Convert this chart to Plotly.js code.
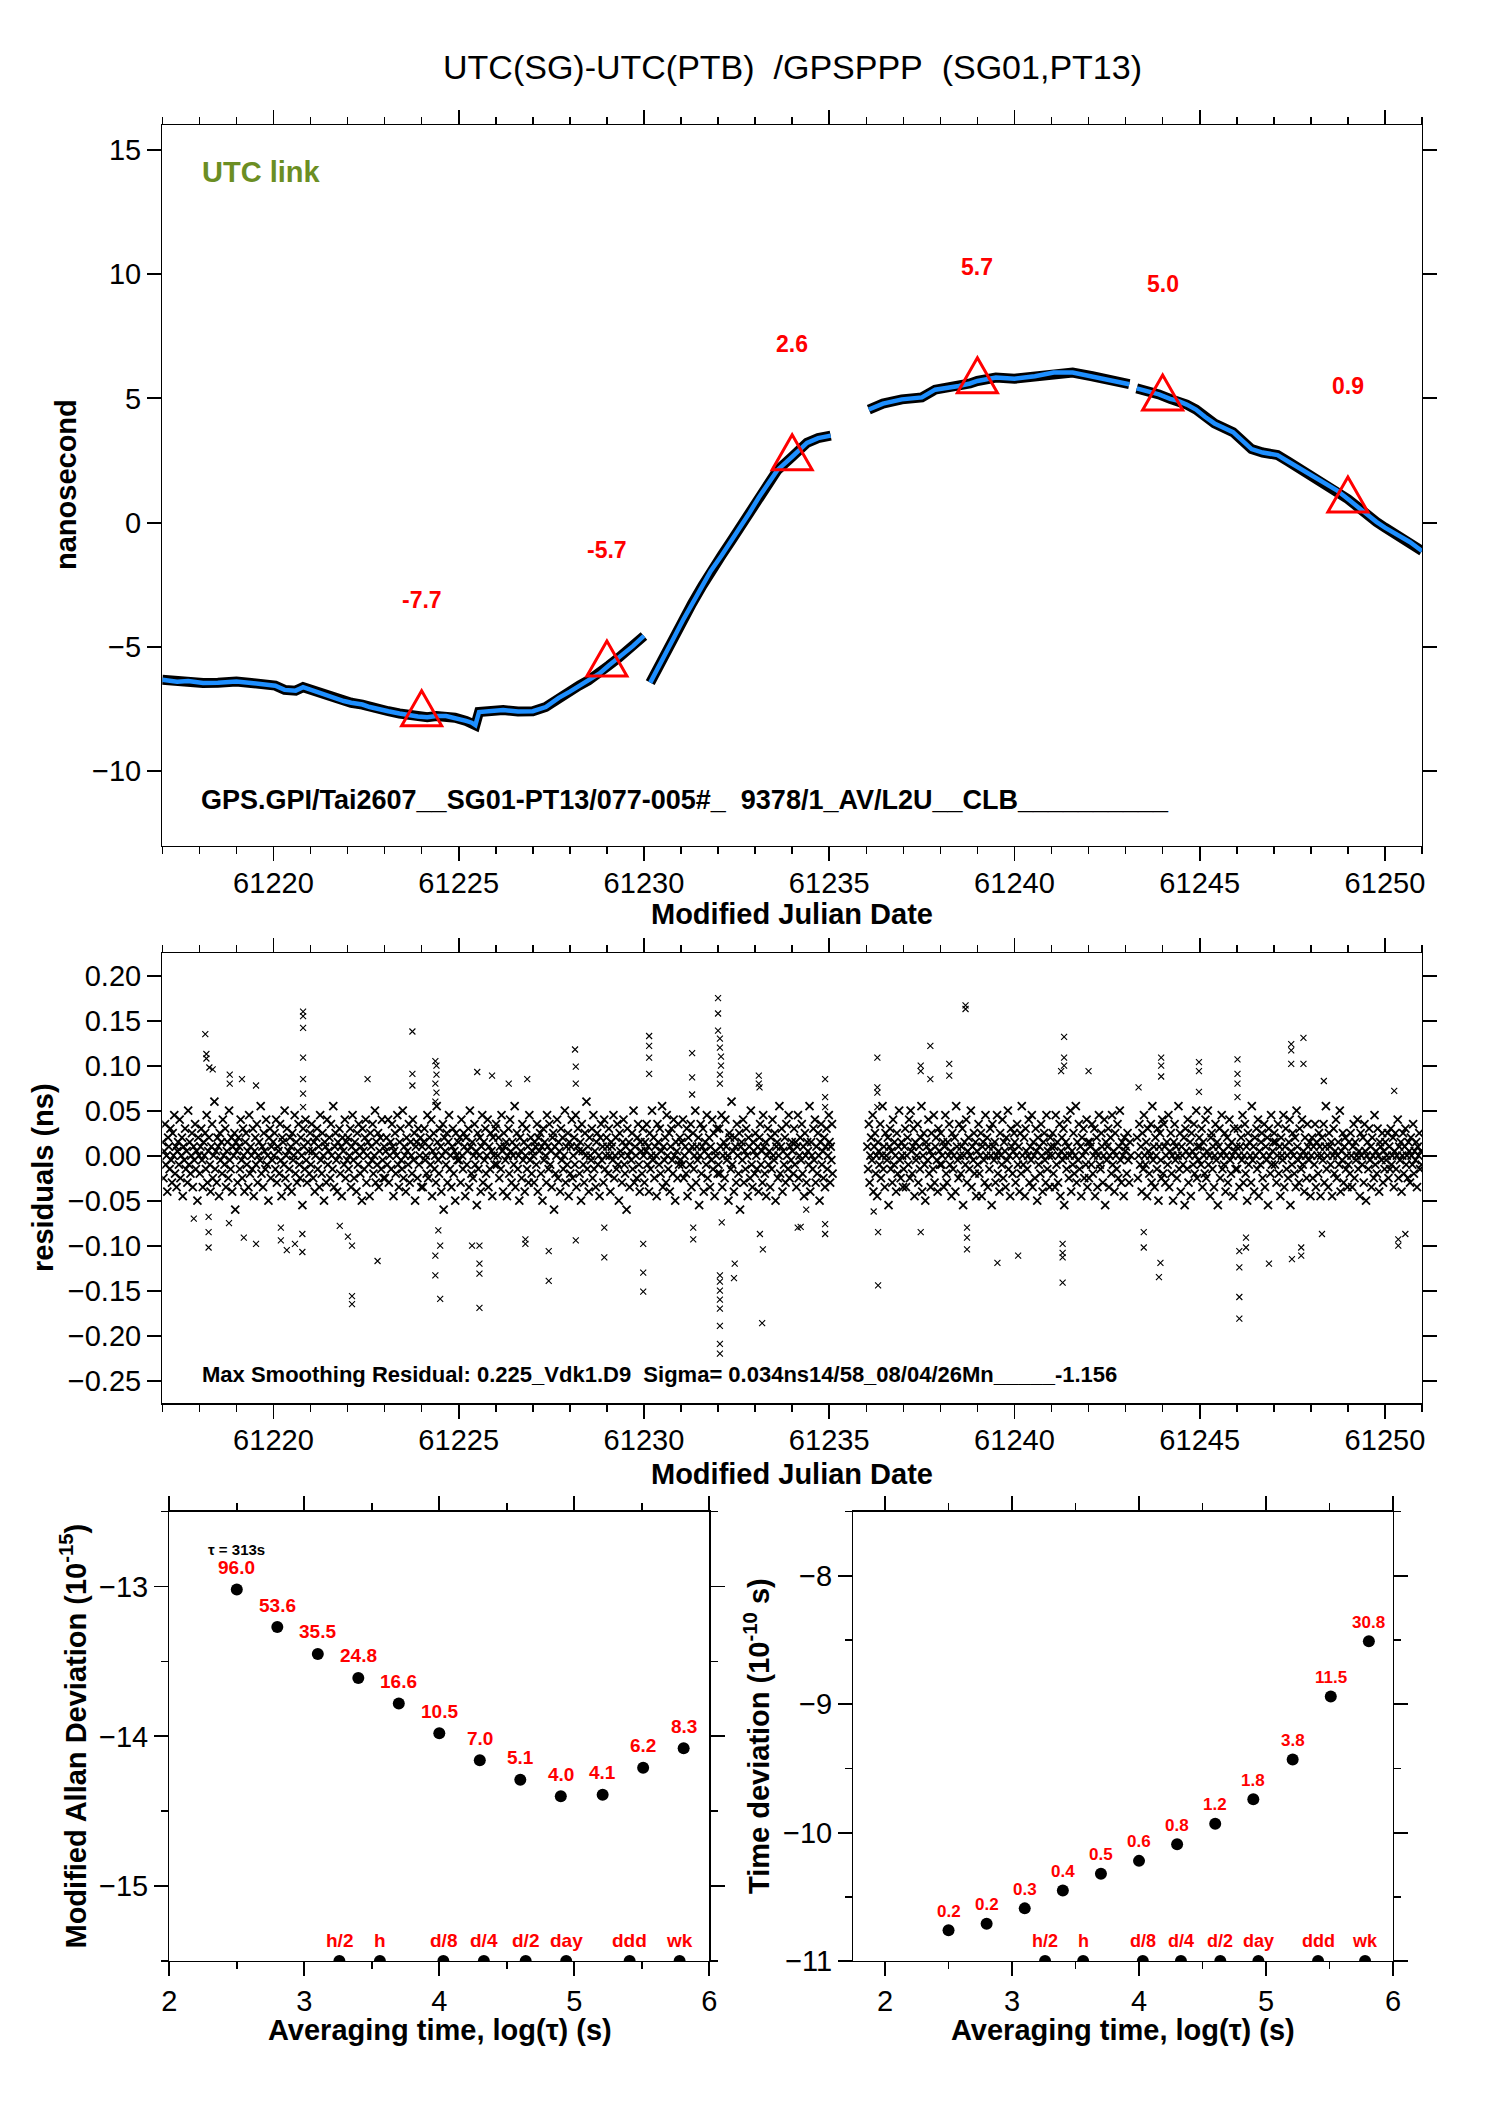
<!DOCTYPE html>
<html><head><meta charset="utf-8">
<script src="https://cdn.plot.ly/plotly-3.0.1.min.js"></script>
<style>html,body{margin:0;padding:0;background:#fff}#chart{width:1488px;height:2105px}</style>
</head><body><div id="chart"></div>
<script>
// ---------- Top panel: UTC(SG)-UTC(PTB) (ns) vs MJD, four data segments ----------
const seg1Mjd = [61217.0,61217.4,61217.7,61218.1,61218.5,61218.8,61219.0,61219.4,61219.8,61220.05,61220.3,61220.6,61220.8,61221.0,61221.3,61221.6,61221.9,61222.1,61222.4,61222.6,61222.9,61223.1,61223.4,61223.6,61223.9,61224.15,61224.4,61224.66,61224.9,61225.2,61225.35,61225.45,61225.55,61225.9,61226.2,61226.6,61227.0,61227.35,61227.7,61228.0,61228.25,61228.5,61228.8,61229.05,61229.3,61229.5,61229.7,61230.0];
const seg1Ns  = [-6.32,-6.40,-6.37,-6.45,-6.44,-6.40,-6.39,-6.45,-6.52,-6.56,-6.73,-6.76,-6.62,-6.72,-6.90,-7.05,-7.18,-7.25,-7.32,-7.42,-7.50,-7.59,-7.68,-7.74,-7.80,-7.83,-7.78,-7.78,-7.85,-7.98,-8.05,-8.15,-7.62,-7.58,-7.54,-7.60,-7.59,-7.42,-7.05,-6.80,-6.56,-6.35,-6.07,-5.75,-5.46,-5.20,-4.97,-4.56];
const seg2Mjd = [61230.17,61230.35,61230.56,61230.8,61231.07,61231.3,61231.58,61231.8,61232.1,61232.35,61232.6,61232.85,61233.1,61233.35,61233.6,61234.0,61234.4,61234.7,61235.04];
const seg2Ns  = [-6.44,-5.90,-5.34,-4.65,-3.88,-3.25,-2.53,-1.95,-1.31,-0.75,-0.21,0.40,1.01,1.55,2.11,2.65,3.21,3.40,3.50];
const seg3Mjd = [61236.07,61236.45,61236.96,61237.5,61237.86,61238.2,61238.5,61238.8,61239.0,61239.5,61240.0,61240.55,61241.06,61241.57,61242.1,61242.6,61243.1];
const seg3Ns  = [4.55,4.79,4.96,5.04,5.35,5.42,5.50,5.60,5.70,5.84,5.79,5.89,6.04,6.04,5.89,5.72,5.57];
const seg4Mjd = [61243.3,61243.6,61243.9,61244.2,61244.4,61244.65,61244.9,61245.15,61245.4,61245.9,61246.15,61246.4,61246.7,61247.1,61247.4,61247.7,61248.2,61248.7,61249.0,61249.26,61249.5,61249.77,61250.0,61250.3,61250.67,61251.0];
const seg4Ns  = [5.40,5.30,5.16,4.98,4.91,4.75,4.55,4.25,3.99,3.64,3.30,2.96,2.82,2.72,2.45,2.18,1.74,1.30,0.95,0.64,0.30,0.03,-0.20,-0.46,-0.78,-1.14];
const markMjd = [61224,61229,61234,61239,61244,61249];
const markNs  = [-7.7,-5.7,2.6,5.7,5.0,0.9];

// ---------- Middle panel: residuals (ns) ----------
const resSpanStart = [61217,61218,61219,61220,61221,61222,61223,61224,61225,61226,61227,61228,61229,61230,61231,61232,61233,61234,61235.0,61236.02,61237,61238,61239,61240,61241,61242,61243.0,61243.3,61244,61245,61246,61247,61248,61249,61250];
const resSpanEnd   = [61218,61219,61220,61221,61222,61223,61224,61225,61226,61227,61228,61229,61230,61231,61232,61233,61234,61235,61235.1,61237,61238,61239,61240,61241,61242,61243,61243.15,61244,61245,61246,61247,61248,61249,61250,61251];
// residual values in units of 0.005 ns, one list per data span (evenly sampled epochs)
const resSpanVals = [
[3,-5,1,7,-2,0,-8,4,2,-3,6,-1,-6,5,0,9,-4,2,-7,1,3,-2,8,-5,0,4,-9,2,-1,6,-3,1,-6,10,-2,3,-4,0,5,-7,2,-1,7,-3,1,-10,4,0],
[-4,2,6,-1,-7,3,0,5,-3,9,-6,1,4,-2,-8,2,7,-5,0,12,-3,1,-6,4,2,-9,5,-1,3,-4,8,0,-2,6,-7,1,3,-5,10,-1,-3,4,-8,2,0,5,-12,3],
[1,-6,4,2,-3,8,-1,-5,6,0,-8,3,5,-2,1,-7,9,-4,2,0,-3,6,-9,1,4,-2,7,-6,0,3,-1,11,-4,2,-7,5,1,-3,8,-2,0,-10,4,6,-5,2,-1,3],
[0,5,-3,8,-6,2,1,-4,7,-1,-9,4,3,-2,10,-5,0,6,-7,1,-3,4,2,-8,5,-1,0,9,-4,3,-6,1,7,-2,-5,4,0,-11,6,2,-3,8,-1,-6,3,1,-4,5],
[-2,7,1,-5,3,-8,0,4,6,-3,2,-7,9,-1,-4,5,0,-10,3,2,-6,8,-2,1,4,-5,7,0,-3,11,-7,2,5,-1,-8,3,0,6,-4,2,-9,4,1,-2,8,-5,3,-1],
[4,-3,0,6,-7,2,9,-1,-5,3,1,-8,5,-2,7,0,-4,2,-10,6,1,-3,4,8,-6,0,3,-2,-9,5,2,-1,7,-4,0,10,-6,3,-2,5,-7,1,4,-3,8,-1,-5,2],
[-5,1,4,-2,8,-6,0,3,-3,7,2,-9,1,5,-4,0,9,-2,-7,3,6,-1,-3,10,-5,2,0,-8,4,1,-2,7,-6,3,0,-4,8,-1,5,-10,2,3,-5,6,-2,0,4,-7],
[2,-7,3,6,-1,0,-4,9,-5,2,4,-2,8,-9,1,5,-3,0,-6,11,3,-1,-4,6,2,-8,0,7,-12,4,1,-2,5,-6,3,9,-3,0,-7,2,6,-4,1,-10,5,0,-1,3],
[-1,4,-6,8,0,-3,5,2,-9,4,-2,1,6,-7,10,2,-4,3,-5,0,7,-2,1,-11,5,-3,0,4,-8,2,9,-6,3,-1,6,-4,0,8,-7,2,-3,5,1,-9,4,0,-2,6],
[7,-2,0,4,-5,2,-3,9,1,-8,5,2,-1,3,-9,0,6,-4,8,1,-6,3,0,-2,11,-7,2,5,-3,0,-10,4,1,-5,7,-1,3,-8,0,6,-3,2,-6,9,-1,4,-4,1],
[0,-6,3,2,-2,7,-8,4,1,5,-4,2,-10,6,-1,3,0,-6,9,2,-3,7,-2,1,-7,4,5,-12,2,-4,0,8,-5,3,1,-8,6,-1,4,-3,0,10,-6,2,-2,5,-9,3],
[-4,2,8,-5,0,4,-2,9,-7,2,6,1,-4,3,-10,7,1,-2,-6,5,0,12,-3,2,-8,4,0,-1,6,-5,9,-3,1,-7,3,5,-2,0,-9,4,7,-1,2,-6,8,-3,0,4],
[2,-4,6,0,-8,3,2,-1,9,-5,0,4,-3,7,-2,-10,5,1,0,-6,3,8,-2,-4,2,-12,6,0,3,-7,1,-1,5,-3,10,-6,2,0,-5,4,7,-2,-8,3,1,-4,6,0],
[-6,3,1,7,-2,2,-8,5,-3,0,10,-1,4,-5,2,0,-9,7,3,-2,6,-4,1,11,-7,2,-1,4,-6,9,0,-3,5,-8,2,6,-1,-4,8,0,-10,3,1,-5,7,-2,4,-1],
[3,-2,8,-5,0,2,-4,6,-9,4,1,-2,7,-7,2,5,-3,0,10,-6,2,-1,4,-11,0,7,-4,2,6,-8,1,3,-2,9,-5,0,4,-7,2,-1,8,-3,5,-9,1,0,6,-4],
[-2,6,-4,2,9,-7,0,3,-5,8,2,-1,0,-10,5,4,-3,12,-2,1,-8,4,2,-6,7,0,-4,5,-12,2,3,-1,8,-6,1,-3,6,0,-9,4,2,-5,10,-2,-7,3,1,-4],
[5,0,-3,2,-8,4,7,-2,1,-6,9,2,-4,3,-9,0,6,-2,1,-7,4,-3,8,0,-1,5,-10,2,3,-5,0,11,-4,2,6,-8,1,-2,4,-6,7,0,-3,9,-5,2,-1,3],
[1,-4,6,-2,3,-7,2,9,-5,0,4,-1,7,-4,2,-9,5,0,-6,3,1,-2,11,-8,3,0,-3,6,-1,8,-6,2,-4,5,0,-10,3,7,-2,1,-5,4,-7,2,6,-3,0,9],
[3,-6,2,-1,7,-4],
[2,-3,7,-6,0,4,-1,9,-8,2,5,-4,0,-9,3,1,-2,7,-5,0,11,-3,2,-7,5,0,-1,4,-11,2,6,-3,1,-6,8,-2,3,0,-8,5,-4,2,10,-1,-5,3,0,-7],
[-3,2,6,-7,0,4,-2,8,-5,10,1,-4,2,6,-9,3,-1,0,7,-6,2,-3,4,11,-8,0,5,-2,-10,3,2,-1,8,-4,1,-7,5,0,-3,9,-6,2,4,-1,-8,6,1,-2],
[5,-2,0,3,-7,2,9,-4,-6,3,0,7,-2,1,-9,5,-3,0,4,-8,11,2,-1,-5,7,0,-4,2,6,-11,0,3,-2,8,-6,1,4,-3,0,10,-7,2,-1,5,-4,3,-9,1],
[-2,7,-4,0,5,-9,2,3,-1,-6,9,0,4,-7,2,-3,6,0,-11,7,2,-1,3,-6,0,9,-4,1,-8,5,0,-2,8,-5,3,1,-7,4,-1,10,-3,0,-9,6,2,-4,1,5],
[3,-6,0,7,-2,2,-8,5,-4,11,0,-2,4,-9,6,1,-3,0,8,-6,2,-1,9,-7,3,0,-5,6,1,-10,4,-2,2,-4,7,0,-8,3,5,-1,-6,9,-3,1,0,-7,4,2],
[0,5,-4,2,-7,9,-2,3,-6,0,7,-9,1,4,-1,6,-11,0,3,-3,8,2,-5,0,10,-8,1,-2,5,-4,0,11,-6,3,-1,7,-3,2,-9,4,0,6,-5,1,-2,8,-7,3],
[-5,3,2,-2,7,-4,0,6,-9,1,4,-7,0,9,-2,-3,5,2,-6,0,8,-11,3,-1,2,6,-7,0,4,-4,9,-2,1,-8,5,0,-3,7,-5,2,10,-1,-6,3,0,-9,4,1],
[2,-4,5,-1,-6,3,0],
[4,-5,0,7,-2,2,-8,5,-3,9,0,-2,3,-9,6,1,-4,0,7,-6,11,-1,2,-7,4,0,-3,6,-10,2,5,-1,-5,8],
[-4,7,2,-6,0,3,-2,9,-7,1,5,-4,0,-10,3,7,-1,2,-5,0,11,-3,5,-8,2,0,-2,4,-11,6,1,-3,8,-6,0,3,-9,5,1,-2,7,-4,0,10,-5,2,-1,4],
[2,-2,6,-7,3,0,-4,8,-5,1,10,-2,0,-9,4,5,-3,2,-7,0,7,-1,3,-11,2,6,-5,0,9,-3,1,-2,5,-8,0,4,-6,2,8,-1,-4,3,0,-9,6,1,-3,2],
[-3,6,0,-7,2,4,-1,9,-6,0,7,-4,2,-10,5,-2,3,0,-6,11,-1,2,-8,4,0,6,-3,8,-9,1,-2,3,5,-5,0,7,-7,2,-1,4,-11,6,0,-4,9,-2,1,3],
[5,-2,3,-6,0,7,-4,2,-9,4,0,-1,9,-7,2,6,-3,0,-5,3,8,-11,1,-2,5,0,-4,4,-7,10,2,-1,-6,6,0,-3,8,-2,1,-8,4,0,-5,7,2,-1,3,-9],
[0,4,-5,2,-2,7,-7,3,0,-4,5,2,-9,0,4,-1,7,-6,2,11,-3,0,-7,5,2,-2,3,-9,0,6,-4,1,8,-5,0,3,-2,10,-8,1,-1,5,-6,2,4,-3,0,-7],
[-2,3,-4,5,0,-7,2,7,-5,3,-1,0,8,-3,1,-9,5,0,-2,4,-6,7,1,-10,0,3,-3,6,-1,2,-7,4,0,-5,9,-2,1,-4,6,0,-8,3,2,-1,5,-6,1,-3],
[3,-1,0,5,-5,2,-3,6,-2,0,4,-7,1,5,-3,0,8,-5,2,-1,3,-8,0,5,-4,2,6,-2,0,-5,3,1,-6,4,0,-2,7,-4,1,-1,3,-7,2,0,5,-3,1,-2]
];
const resOutMjd = [61218.16,61218.19,61218.19,61218.27,61218.36,61218.25,61218.25,61218.25,61217.85,61218.82,61218.82,61219.15,61219.53,61219.2,61219.53,61218.8,
61220.8,61220.8,61220.8,61220.8,61220.8,61220.8,61220.8,61220.78,61220.58,61220.36,61220.2,61220.78,61220.2,
61223.75,61223.75,61223.75,61222.54,61222.12,61222.12,61222.12,61222.01,61221.79,61222.81,
61224.37,61224.4,61224.4,61224.37,61224.4,61224.37,61224.37,61224.5,61224.37,61224.5,61224.45,
61225.5,61225.9,61225.56,61225.56,61225.56,61225.36,61225.56,61226.35,61226.85,61226.8,61226.8,61227.43,61227.43,
61228.14,61228.16,61228.16,61228.16,61228.93,61228.93,61230.14,61230.14,61230.14,61230.14,61229.98,61229.98,61229.98,
61231.3,61231.3,61231.3,61231.33,61231.33,61232.0,61232.0,61232.0,61232.05,61232.05,61232.08,61232.08,61232.05,61232.05,
61232.05,61232.05,61232.05,61232.05,61232.05,61232.05,61232.05,61232.05,61232.45,61232.43,61232.1,
61233.1,61233.1,61233.12,61233.19,61233.21,61233.13,61234.15,61234.89,61234.89,61234.89,61234.89,61234.89,61234.23,61234.38,
61236.3,61236.3,61236.3,61236.3,61236.32,61236.32,61236.2,61237.47,61237.47,61237.47,61237.73,61237.73,61238.24,61238.24,
61238.68,61238.68,61238.72,61238.72,61238.72,61239.54,61240.1,61241.34,61241.34,61241.34,61241.26,61241.3,61241.3,61241.3,61241.3,
61242.0,61243.35,61243.49,61243.49,61243.96,61243.96,61243.96,61243.94,61243.9,61244.98,61244.98,61244.98,
61246.02,61246.02,61246.02,61246.02,61246.07,61246.07,61246.07,61246.07,61246.25,61246.25,61246.87,
61247.47,61247.47,61247.47,61247.8,61247.8,61247.49,61247.74,61247.74,61248.35,61248.3,61250.25,61250.36,61250.36,61250.55];
const resOutNs = [0.135,0.113,0.108,0.098,0.096,-0.102,-0.085,-0.068,-0.07,0.09,0.08,0.085,0.078,-0.091,-0.098,-0.075,
0.16,0.155,0.142,0.109,0.085,0.069,0.054,-0.087,-0.098,-0.105,-0.094,-0.107,-0.08,
0.138,0.091,0.078,0.085,-0.156,-0.165,-0.1,-0.09,-0.078,-0.117,
0.105,0.1,0.09,0.08,0.07,0.06,-0.133,-0.159,-0.111,-0.1,-0.083,
0.093,0.089,-0.169,-0.12,-0.131,-0.1,-0.1,0.08,0.085,-0.093,-0.098,-0.139,-0.106,
0.118,0.099,0.08,-0.094,-0.113,-0.08,0.133,0.122,0.109,0.091,-0.098,-0.13,-0.151,
0.114,0.087,0.068,-0.08,-0.093,0.175,0.158,0.139,0.13,0.12,0.11,0.1,0.09,0.08,
-0.133,-0.14,-0.15,-0.16,-0.17,-0.189,-0.209,-0.22,-0.12,-0.136,-0.074,
0.089,0.08,0.076,-0.186,-0.104,-0.087,-0.08,0.085,0.065,0.054,-0.076,-0.087,-0.079,-0.06,
0.109,0.076,0.07,0.054,-0.085,-0.144,-0.062,0.1,0.094,-0.085,0.122,0.085,0.102,0.089,
0.167,0.163,-0.08,-0.091,-0.104,-0.119,-0.111,0.132,0.109,0.1,0.094,-0.098,-0.108,-0.113,-0.141,
0.094,0.076,-0.085,-0.102,0.109,0.1,0.088,-0.119,-0.135,0.104,0.094,0.071,
0.107,0.091,0.08,0.065,-0.106,-0.124,-0.157,-0.181,-0.091,-0.102,-0.12,
0.124,0.117,0.102,0.131,0.102,-0.115,-0.102,-0.111,0.083,-0.087,0.072,-0.093,-0.1,-0.087];

// ---------- Bottom panels: stability ----------
const logTau      = [2.50,2.80,3.10,3.40,3.70,4.00,4.30,4.60,4.90,5.21,5.51,5.81];
const modAdevLog  = [-13.02,-13.27,-13.45,-13.61,-13.78,-13.98,-14.16,-14.29,-14.40,-14.39,-14.21,-14.08];
const modAdevText = ["96.0","53.6","35.5","24.8","16.6","10.5","7.0","5.1","4.0","4.1","6.2","8.3"];
const tdevLog     = [-10.76,-10.71,-10.59,-10.45,-10.32,-10.22,-10.09,-9.93,-9.74,-9.43,-8.94,-8.51];
const tdevText    = ["0.2","0.2","0.3","0.4","0.5","0.6","0.8","1.2","1.8","3.8","11.5","30.8"];
const refLogTau   = [3.26,3.56,4.03,4.33,4.64,4.94,5.41,5.78];
const refTauText  = ["h/2","h","d/8","d/4","d/2","day","ddd","wk"];

// ---------- build ----------
const W = 1488, H = 2105;
const px = v => v / W, py = v => 1 - v / H;
const FONT = "Liberation Sans, Arial, Helvetica, sans-serif";
const NB = "\u00a0";

function joinSegs(xs, ys) {
  const X = [], Y = [];
  xs.forEach((s, i) => { if (i) { X.push(null); Y.push(null); } X.push(...s); Y.push(...ys[i]); });
  return [X, Y];
}
const [utcX, utcY] = joinSegs([seg1Mjd, seg2Mjd, seg3Mjd, seg4Mjd], [seg1Ns, seg2Ns, seg3Ns, seg4Ns]);

const coreX = [], coreY = [];
resSpanVals.forEach((vals, k) => {
  const a = resSpanStart[k], b = resSpanEnd[k], n = vals.length;
  vals.forEach((v, i) => { coreX.push(a + (i + 0.5) * (b - a) / n); coreY.push(v * 0.005); });
});

const coreMark = {symbol: 'x-thin', size: 8, color: 'black', line: {color: 'black', width: 1.8}};
const outMark  = {symbol: 'x-thin', size: 6, color: 'black', line: {color: 'black', width: 1.1}};

const traces = [
  {x: utcX, y: utcY, xaxis: 'x', yaxis: 'y', mode: 'lines', line: {color: 'black', width: 10}, connectgaps: false},
  {x: utcX, y: utcY, xaxis: 'x', yaxis: 'y', mode: 'lines', line: {color: '#1e8fff', width: 4.5}, connectgaps: false},
  {x: coreX, y: coreY, xaxis: 'x2', yaxis: 'y2', mode: 'markers', marker: coreMark},
  {x: resOutMjd, y: resOutNs, xaxis: 'x2', yaxis: 'y2', mode: 'markers', marker: outMark},
  {x: logTau, y: modAdevLog, xaxis: 'x3', yaxis: 'y3', mode: 'markers', marker: {color: 'black', size: 12}},
  {x: refLogTau, y: refLogTau.map(() => -15.5), xaxis: 'x3', yaxis: 'y3', mode: 'markers', marker: {color: 'black', size: 12}},
  {x: logTau, y: tdevLog, xaxis: 'x4', yaxis: 'y4', mode: 'markers', marker: {color: 'black', size: 12}},
  {x: refLogTau, y: refLogTau.map(() => -11), xaxis: 'x4', yaxis: 'y4', mode: 'markers', marker: {color: 'black', size: 12}}
];

const axBase = {
  showline: true, linecolor: 'black', linewidth: 1.3, mirror: 'ticks',
  ticks: 'outside', ticklen: 14, tickwidth: 1.8, tickcolor: 'black',
  showgrid: false, zeroline: false, fixedrange: true,
  tickfont: {family: FONT, size: 29, color: 'black'}
};
const minorBase = {ticks: 'outside', ticklen: 7, tickwidth: 1.5, tickcolor: 'black', showgrid: false};
const ax = o => Object.assign({}, axBase, o);

const layout = {
  width: W, height: H, margin: {l: 0, r: 0, t: 0, b: 0},
  paper_bgcolor: 'white', plot_bgcolor: 'white', showlegend: false,
  font: {family: FONT, color: 'black'},
  xaxis:  ax({domain: [px(162.3), px(1422)], range: [61217, 61251], anchor: 'y', tick0: 61220, dtick: 5, tickformat: 'd', ticklabelstandoff: -3, minor: Object.assign({dtick: 1}, minorBase)}),
  yaxis:  ax({domain: [py(845.7), py(125)], range: [-13, 16], anchor: 'x', tick0: 0, dtick: 5}),
  xaxis2: ax({domain: [px(162.3), px(1422)], range: [61217, 61251], anchor: 'y2', tick0: 61220, dtick: 5, tickformat: 'd', ticklabelstandoff: -3, minor: Object.assign({dtick: 1}, minorBase)}),
  yaxis2: ax({domain: [py(1403.2), py(953.2)], range: [-0.275, 0.225], anchor: 'x2', tick0: 0, dtick: 0.05, tickformat: '.2f'}),
  xaxis3: ax({domain: [px(169.3), px(709.3)], range: [2, 6], anchor: 'y3', tick0: 2, dtick: 1, minor: Object.assign({dtick: 0.5}, minorBase)}),
  yaxis3: ax({domain: [py(1961), py(1511.7)], range: [-15.5, -12.5], anchor: 'x3', tick0: -13, dtick: 1, minor: Object.assign({dtick: 0.5}, minorBase)}),
  xaxis4: ax({domain: [px(853.3), px(1393)], range: [1.75, 6], anchor: 'y4', tick0: 2, dtick: 1, minor: Object.assign({dtick: 0.5}, minorBase)}),
  yaxis4: ax({domain: [py(1961), py(1511.7)], range: [-11, -7.5], anchor: 'x4', tick0: -8, dtick: 1, minor: Object.assign({dtick: 0.5}, minorBase)}),
  shapes: [], annotations: []
};

const A = layout.annotations;
function paperText(text, x, y, size, opts) {
  A.push(Object.assign({text: text, xref: 'paper', yref: 'paper', x: px(x), y: py(y), showarrow: false,
    xanchor: 'center', yanchor: 'middle', font: {family: FONT, size: size, color: 'black'}}, opts || {}));
}
// titles
paperText('UTC(SG)-UTC(PTB)' + NB + NB + '/GPSPPP' + NB + NB + '(SG01,PT13)', 792, 67, 34);
paperText('<b>nanosecond</b>', 66, 485, 29, {textangle: -90});
paperText('<b>Modified Julian Date</b>', 792, 914, 29);
paperText('<b>residuals (ns)</b>', 43, 1178, 29, {textangle: -90});
paperText('<b>Modified Julian Date</b>', 792, 1474, 29);
paperText('<b>Modified Allan Deviation (10<sup>-15</sup>)</b>', 73.5, 1736, 29, {textangle: -90});
paperText('<b>Time deviation (10<sup>-10</sup> s)</b>', 757, 1736, 29, {textangle: -90});
paperText('<b>Averaging time, log(τ) (s)</b>', 439.5, 2030, 29);
paperText('<b>Averaging time, log(τ) (s)</b>', 1123, 2030, 29);
// in-plot texts
paperText('<b>UTC link</b>', 200, 172, 29, {xanchor: 'left', font: {family: FONT, size: 29, color: '#6b8e23'}});
paperText('<b>GPS.GPI/Tai2607__SG01-PT13/077-005#_' + NB + NB + '9378/1_AV/L2U__CLB__________</b>', 199, 800, 27, {xanchor: 'left'});
paperText('<b>Max Smoothing Residual: 0.225_Vdk1.D9' + NB + NB + 'Sigma= 0.034ns14/58_08/04/26Mn_____-1.156</b>', 200, 1374, 22, {xanchor: 'left'});
paperText('<b>τ = 313s</b>', 236, 1549, 15);

// triangle markers + value labels on the top panel
markMjd.forEach((m, i) => {
  layout.shapes.push({type: 'path', xref: 'x', yref: 'y', xsizemode: 'pixel', ysizemode: 'pixel',
    xanchor: m, yanchor: markNs[i], path: 'M-20,-11.7L20,-11.7L0,23.3Z',
    line: {color: '#ff0000', width: 3}, fillcolor: 'rgba(0,0,0,0)'});
  A.push({text: '<b>' + markNs[i].toFixed(1) + '</b>', xref: 'x', yref: 'y', x: m, y: markNs[i], yshift: 114,
    showarrow: false, font: {family: FONT, size: 23, color: '#ff0000'}});
});
// stability labels
logTau.forEach((t, i) => {
  A.push({text: '<b>' + modAdevText[i] + '</b>', xref: 'x3', yref: 'y3', x: t, y: modAdevLog[i], yshift: 22,
    showarrow: false, font: {family: FONT, size: 19, color: '#ff0000'}});
  A.push({text: '<b>' + tdevText[i] + '</b>', xref: 'x4', yref: 'y4', x: t, y: tdevLog[i], yshift: 19,
    showarrow: false, font: {family: FONT, size: 17, color: '#ff0000'}});
});
refLogTau.forEach((t, i) => {
  A.push({text: '<b>' + refTauText[i] + '</b>', xref: 'x3', yref: 'y3', x: t, y: -15.5, yshift: 21,
    showarrow: false, font: {family: FONT, size: 19, color: '#ff0000'}});
  A.push({text: '<b>' + refTauText[i] + '</b>', xref: 'x4', yref: 'y4', x: t, y: -11, yshift: 20,
    showarrow: false, font: {family: FONT, size: 18, color: '#ff0000'}});
});

Plotly.newPlot('chart', traces, layout, {staticPlot: true, displayModeBar: false});
</script>
</body></html>
